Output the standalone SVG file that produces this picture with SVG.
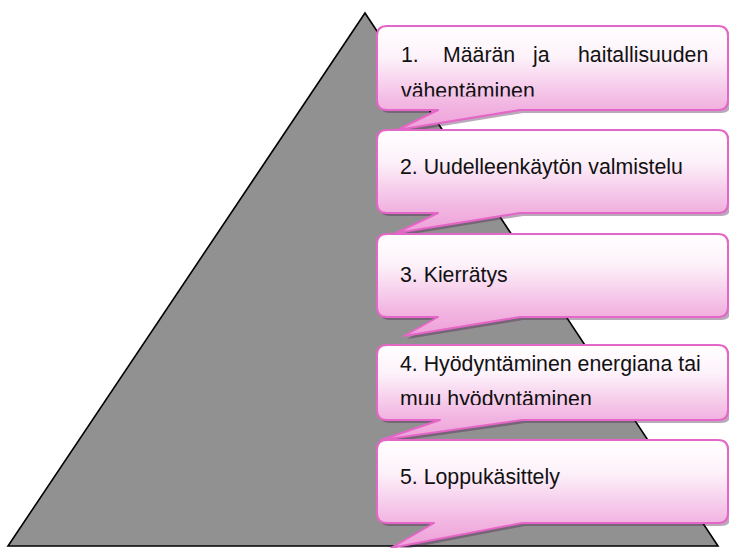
<svg xmlns="http://www.w3.org/2000/svg" xmlns:xlink="http://www.w3.org/1999/xlink" width="729" height="548" viewBox="0 0 729 548">
<style>
.bubble{fill:url(#pinkGrad);stroke:#e466c6;stroke-width:2;stroke-linejoin:round}
.shadow{fill:#4a1e4a;fill-opacity:0.38;stroke:none}
.lbl{font-family:"Liberation Sans",Arial,sans-serif;font-size:21.3px;fill:#111}
</style>
<defs>
<linearGradient id="pinkGrad" x1="0" y1="0" x2="0" y2="1">
<stop offset="0" stop-color="#ffffff"/>
<stop offset="0.3" stop-color="#fdf2fa"/>
<stop offset="0.75" stop-color="#f2b6e2"/>
<stop offset="1" stop-color="#ee9fd8"/>
</linearGradient>
<clipPath id="clip1"><rect x="377" y="26" width="352" height="70.5"/></clipPath>
<clipPath id="clip4"><rect x="377" y="345" width="352" height="60"/></clipPath>
</defs>
<g id="pyramid">
<polygon points="365,13 718,546 8,546" fill="#919191" stroke="#000" stroke-width="1.6" stroke-linejoin="miter"/>
</g>
<g id="connectors"></g>
<g id="callout1">
<path id="p1" d="M387,26 H718 Q728,26 728,36 V100 Q728,110 718,110 H520 L397,130 L438,110 H387 Q377,110 377,100 V36 Q377,26 387,26 Z" class="shadow" transform="translate(3,3)"/>
<path d="M387,26 H718 Q728,26 728,36 V100 Q728,110 718,110 H520 L397,130 L438,110 H387 Q377,110 377,100 V36 Q377,26 387,26 Z" class="bubble"/>
<g clip-path="url(#clip1)">
<text class="lbl" y="62"><tspan x="401">1.</tspan><tspan x="443">Määrän</tspan><tspan x="533">ja</tspan><tspan x="578">haitallisuuden</tspan></text>
<text class="lbl" x="401" y="98">vähentäminen</text>
</g>
</g>
<g id="callout2">
<path d="M387,130 H718 Q728,130 728,140 V203 Q728,213 718,213 H520 L396,233 L438,213 H387 Q377,213 377,203 V140 Q377,130 387,130 Z" class="shadow" transform="translate(3,3)"/>
<path d="M387,130 H718 Q728,130 728,140 V203 Q728,213 718,213 H520 L396,233 L438,213 H387 Q377,213 377,203 V140 Q377,130 387,130 Z" class="bubble"/>
<text class="lbl" x="400" y="174">2. Uudelleenkäytön valmistelu</text>
</g>
<g id="callout3">
<path d="M387,234 H718 Q728,234 728,244 V307 Q728,317 718,317 H520 L404,336 L438,317 H387 Q377,317 377,307 V244 Q377,234 387,234 Z" class="shadow" transform="translate(3,3)"/>
<path d="M387,234 H718 Q728,234 728,244 V307 Q728,317 718,317 H520 L404,336 L438,317 H387 Q377,317 377,307 V244 Q377,234 387,234 Z" class="bubble"/>
<text class="lbl" x="400" y="282">3. Kierrätys</text>
</g>
<g id="callout4">
<path d="M387,345 H718 Q728,345 728,355 V410 Q728,420 718,420 H522 L381,440 L440,420 H387 Q377,420 377,410 V355 Q377,345 387,345 Z" class="shadow" transform="translate(3,3)"/>
<path d="M387,345 H718 Q728,345 728,355 V410 Q728,420 718,420 H522 L381,440 L440,420 H387 Q377,420 377,410 V355 Q377,345 387,345 Z" class="bubble"/>
<g clip-path="url(#clip4)">
<text class="lbl" x="400" y="371">4. Hyödyntäminen energiana tai</text>
<text class="lbl" x="400" y="406">muu hyödyntäminen</text>
</g>
</g>
<g id="callout5">
<path d="M387,440 H718 Q728,440 728,450 V513 Q728,523 718,523 H522 L391,548 L434,523 H387 Q377,523 377,513 V450 Q377,440 387,440 Z" class="shadow" transform="translate(3,3)"/>
<path d="M387,440 H718 Q728,440 728,450 V513 Q728,523 718,523 H522 L391,548 L434,523 H387 Q377,523 377,513 V450 Q377,440 387,440 Z" class="bubble"/>
<text class="lbl" x="400" y="484">5. Loppukäsittely</text>
</g>
</svg>
